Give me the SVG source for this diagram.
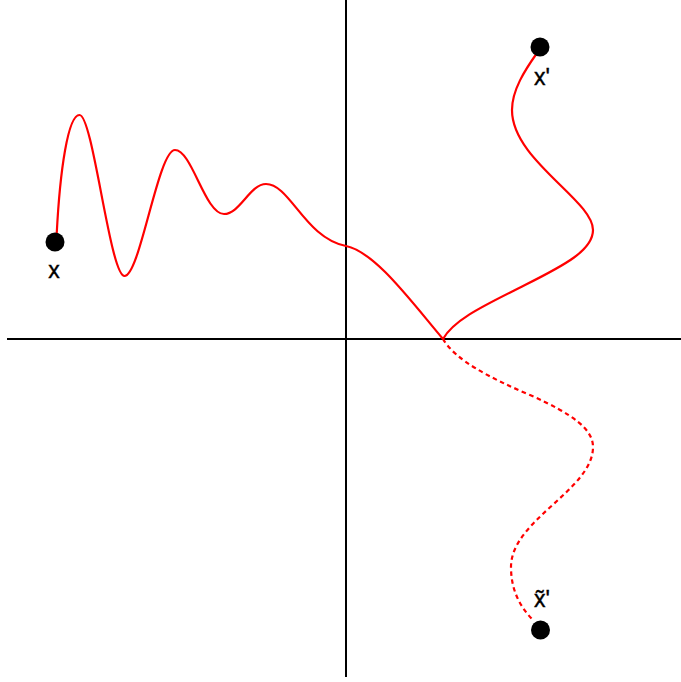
<svg xmlns="http://www.w3.org/2000/svg" width="681" height="682" viewBox="0 0 681 682">
<style>
.axis{stroke:#000;stroke-width:2;fill:none}
.path{stroke:#ff0000;stroke-width:2.2;fill:none}
.dash{stroke-dasharray:4.5 3.5}
.dot{fill:#000}
.lbl{font-family:"Liberation Sans",Arial,sans-serif;font-size:23px;fill:#000;stroke:#000;stroke-width:0.4}
</style>
<rect width="681" height="682" fill="#fff"/>
<g id="axes">
<line class="axis" x1="346" y1="0" x2="346" y2="677"/>
<line class="axis" x1="7" y1="339" x2="681" y2="339"/>
</g>
<g id="connectors">
<path class="path" d="M56.7,234 C60,170 68,115 79.5,115 C93,115 110,276 124.5,276 C140,276 158,150 175,150 C192,150 205,214 224,214 C240,214 250,184 266,184 C290,184 305,238 346,246 C375,252 410,300 443,339"/>
<path class="path" d="M443,339 C455,318 490,303 525,285 C565,265 593,250 593,230 C593,200 512,160 512,110 C512,90 525,70 537,53"/>
<path class="path dash" d="M443,339 C455,360 490,378 530,395 C575,415 593,430 593,447 C593,490 511,520 511,567 C511,590 520,607 533,620"/>
</g>
<g id="node-x">
<circle class="dot" cx="55" cy="242" r="9.5"/>
<text class="lbl" x="54" y="278" text-anchor="middle">x</text>
</g>
<g id="node-xprime">
<circle class="dot" cx="540" cy="47" r="9.5"/>
<text class="lbl" x="534" y="85">x'</text>
</g>
<g id="node-xtilde">
<circle class="dot" cx="540.5" cy="630" r="9.5"/>
<text class="lbl" x="534" y="607">x̃'</text>
</g>
</svg>
